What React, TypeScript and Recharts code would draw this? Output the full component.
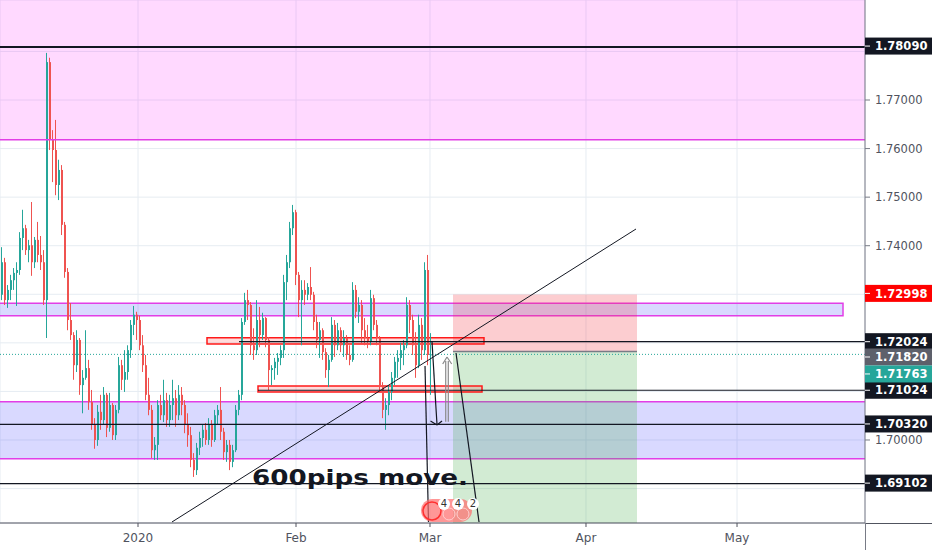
import React from 'react';
import {
  ComposedChart,
  Bar,
  XAxis,
  YAxis,
  CartesianGrid,
  ReferenceArea,
  ReferenceLine,
  ReferenceDot,
} from 'recharts';

type Candle = [number, number, number, number]; // open, high, low, close

const decCandles: Candle[] = [
  [1.7299, 1.7397, 1.7288, 1.7366],
  [1.7366, 1.7375, 1.7278, 1.7288],
  [1.7288, 1.7319, 1.7272, 1.7309],
  [1.7309, 1.734, 1.7288, 1.7329],
  [1.7329, 1.7354, 1.7309, 1.7344],
  [1.7344, 1.7366, 1.7276, 1.735],
  [1.735, 1.7428, 1.734, 1.7416],
  [1.7416, 1.7474, 1.7391, 1.7436],
  [1.7436, 1.7443, 1.7381, 1.7391],
  [1.7391, 1.7412, 1.7366, 1.7401],
  [1.7401, 1.749, 1.7338, 1.7366],
  [1.7366, 1.7418, 1.7354, 1.7412],
  [1.7412, 1.7449, 1.7366, 1.7381],
  [1.7381, 1.742, 1.735, 1.7366],
  [1.7366, 1.7391, 1.7278, 1.7288],
  [1.7288, 1.7797, 1.721, 1.7778],
  [1.7778, 1.7787, 1.7597, 1.7618],
  [1.7618, 1.7638, 1.7531, 1.7597],
  [1.7597, 1.7659, 1.7504, 1.7525],
  [1.7525, 1.7577, 1.7494, 1.7556],
  [1.7556, 1.7566, 1.7422, 1.7443],
  [1.7443, 1.7449, 1.7334, 1.7346],
  [1.7346, 1.7354, 1.7226, 1.7247],
  [1.7247, 1.7282, 1.7206, 1.7216],
  [1.7216, 1.7222, 1.7124, 1.7154],
  [1.7154, 1.7226, 1.714, 1.7206],
  [1.7206, 1.721, 1.7093, 1.7113],
  [1.7113, 1.7144, 1.7055, 1.7128],
  [1.7128, 1.7226, 1.7124, 1.7148],
  [1.7148, 1.7165, 1.7062, 1.7078],
  [1.7078, 1.7103, 1.7021, 1.7031],
  [1.7031, 1.7045, 1.6982, 1.7],
  [1.7, 1.7072, 1.6988, 1.7058],
  [1.7058, 1.7093, 1.7021, 1.7041],
  [1.7041, 1.7109, 1.7031, 1.7093],
  [1.7093, 1.7097, 1.7006, 1.7025],
  [1.7025, 1.7097, 1.7017, 1.7072],
  [1.7072, 1.7076, 1.7, 1.701],
  [1.701, 1.7072, 1.7, 1.7062],
  [1.7062, 1.7171, 1.7055, 1.7154],
  [1.7154, 1.7165, 1.7103, 1.7124],
  [1.7124, 1.7185, 1.7099, 1.714],
  [1.714, 1.7195, 1.7124, 1.7185],
  [1.7185, 1.7247, 1.7169, 1.7237],
  [1.7237, 1.7276, 1.7216, 1.7258],
  [1.7258, 1.7264, 1.7206, 1.7247],
];

const janCandles: Candle[] = [
  [1.7247, 1.7256, 1.7185, 1.7195],
  [1.7195, 1.7216, 1.714, 1.7154],
  [1.7154, 1.7175, 1.7082, 1.7093],
  [1.7093, 1.7128, 1.7051, 1.7062],
  [1.7062, 1.7072, 1.6963, 1.6979],
  [1.6979, 1.7006, 1.6959, 1.699],
  [1.699, 1.7082, 1.6959, 1.7072],
  [1.7072, 1.7093, 1.7041, 1.7051],
  [1.7051, 1.7124, 1.7037, 1.7082],
  [1.7082, 1.7097, 1.7027, 1.7041],
  [1.7041, 1.7093, 1.7027, 1.7072],
  [1.7072, 1.7124, 1.7041, 1.7086],
  [1.7086, 1.7103, 1.7027, 1.7051],
  [1.7051, 1.7113, 1.7041, 1.7093],
  [1.7093, 1.7109, 1.7051, 1.7072],
  [1.7072, 1.7082, 1.7014, 1.7031],
  [1.7031, 1.7055, 1.6986, 1.701],
  [1.701, 1.7027, 1.6944, 1.6959],
  [1.6959, 1.6973, 1.6924, 1.6938],
  [1.6938, 1.6994, 1.6928, 1.6984],
  [1.6984, 1.7017, 1.6969, 1.7004],
  [1.7004, 1.7031, 1.6986, 1.7021],
  [1.7021, 1.7035, 1.699, 1.7],
  [1.7, 1.7045, 1.699, 1.7031],
  [1.7031, 1.7041, 1.6986, 1.7],
  [1.7, 1.7062, 1.6996, 1.7051],
  [1.7051, 1.7072, 1.7031, 1.7062],
  [1.7062, 1.7109, 1.7, 1.7017],
  [1.7017, 1.7025, 1.6959, 1.6975],
  [1.6975, 1.7, 1.6955, 1.699],
  [1.699, 1.7, 1.6938, 1.6955],
  [1.6955, 1.699, 1.6944, 1.6979],
  [1.6979, 1.7072, 1.6975, 1.7062],
  [1.7062, 1.7103, 1.7051, 1.7093],
  [1.7093, 1.7251, 1.7082, 1.7243],
  [1.7243, 1.7303, 1.7237, 1.7288],
  [1.7288, 1.7309, 1.7247, 1.7278],
  [1.7278, 1.7284, 1.7175, 1.7195],
  [1.7195, 1.723, 1.7165, 1.7185],
  [1.7185, 1.7288, 1.7175, 1.7247],
  [1.7247, 1.7274, 1.7191, 1.7216],
  [1.7216, 1.7262, 1.7206, 1.7251],
  [1.7251, 1.7253, 1.7191, 1.7206],
  [1.7206, 1.7212, 1.7103, 1.7144],
  [1.7144, 1.7154, 1.7113, 1.7148],
  [1.7148, 1.7169, 1.7124, 1.7161],
  [1.7161, 1.7179, 1.7134, 1.7169],
  [1.7169, 1.7195, 1.7154, 1.7185],
  [1.7185, 1.734, 1.7169, 1.7325],
  [1.7325, 1.7381, 1.7288, 1.7366],
  [1.7366, 1.7449, 1.7354, 1.7436],
  [1.7436, 1.7484, 1.7422, 1.7469],
  [1.7469, 1.7474, 1.7319, 1.734],
];

const febCandles: Candle[] = [
  [1.734, 1.7346, 1.7253, 1.7288],
  [1.7288, 1.7329, 1.7195, 1.7309],
  [1.7309, 1.7329, 1.7278, 1.7299],
  [1.7299, 1.7323, 1.7288, 1.7315],
  [1.7315, 1.7356, 1.7288, 1.7299],
  [1.7299, 1.7305, 1.7226, 1.7243],
  [1.7243, 1.7258, 1.7189, 1.7206],
  [1.7206, 1.7243, 1.7169, 1.7226],
  [1.7226, 1.723, 1.7165, 1.7181],
  [1.7181, 1.7189, 1.7128, 1.7144],
  [1.7144, 1.7175, 1.7109, 1.7165],
  [1.7165, 1.7253, 1.7161, 1.7237],
  [1.7237, 1.7247, 1.7171, 1.7195],
  [1.7195, 1.7241, 1.7185, 1.7226],
  [1.7226, 1.7232, 1.7181, 1.7195],
  [1.7195, 1.7226, 1.7171, 1.721],
  [1.721, 1.7216, 1.7165, 1.7175],
  [1.7175, 1.7195, 1.7154, 1.7165],
  [1.7165, 1.7325, 1.7161, 1.7309],
  [1.7309, 1.7319, 1.7251, 1.7264],
  [1.7264, 1.7294, 1.7241, 1.7278],
  [1.7278, 1.7288, 1.72, 1.7226],
  [1.7226, 1.7251, 1.7195, 1.721],
  [1.721, 1.7237, 1.7189, 1.7202],
  [1.7202, 1.7309, 1.7195, 1.7292],
  [1.7292, 1.7299, 1.7226, 1.7237],
  [1.7237, 1.7247, 1.7195, 1.721],
  [1.721, 1.7214, 1.7099, 1.7113],
  [1.7113, 1.7119, 1.7045, 1.7062],
  [1.7062, 1.7086, 1.7021, 1.7072],
  [1.7072, 1.7113, 1.7051, 1.7099],
  [1.7099, 1.714, 1.7082, 1.7128],
  [1.7128, 1.7171, 1.7113, 1.7161],
  [1.7161, 1.7185, 1.7128, 1.7169],
  [1.7169, 1.72, 1.7144, 1.7185],
  [1.7185, 1.7206, 1.7154, 1.7195],
  [1.7195, 1.7294, 1.7189, 1.7278],
  [1.7278, 1.7288, 1.722, 1.7247],
  [1.7247, 1.7258, 1.7175, 1.7195],
  [1.7195, 1.7222, 1.7128, 1.7154],
  [1.7154, 1.7258, 1.7148, 1.7237],
  [1.7237, 1.7251, 1.7165, 1.7185],
  [1.7185, 1.7366, 1.7175, 1.735],
  [1.735, 1.7381, 1.7154, 1.7175],
];

const marCandles: Candle[] = [[1.7175, 1.722, 1.7093, 1.71763]];

const candleData = [...decCandles, ...janCandles, ...febCandles, ...marCandles].map((c, i) => ({
  i,
  o: c[0],
  h: c[1],
  l: c[2],
  c: c[3],
}));

const monthTickIndex = [45.5, 98.17, 142.83, 194.83, 245.17];
const monthTickLabels = ['2020', 'Feb', 'Mar', 'Apr', 'May'];
const priceTicks = [1.69, 1.7, 1.71, 1.72, 1.73, 1.74, 1.75, 1.76, 1.77, 1.78];
const priceTickLabels = ['', '1.70000', '', '', '', '1.74000', '1.75000', '1.76000', '1.77000', ''];

const badgeValues = [1.7809, 1.72998, 1.72024, 1.71024, 1.7182, 1.71763, 1.7032, 1.69102];
const badgeTexts = ['1.78090', '1.72998', '1.72024', '1.71024', '1.71820', '1.71763', '1.70320', '1.69102'];

const X_DOMAIN: [number, number] = [-0.5, 287.83];
const Y_DOMAIN: [number, number] = [1.68291, 1.79059];

const TEAL = '#26a69a';
const RED = '#ef5350';
const MAGENTA = '#e23ee6';
const INK = '#131722';
const GREY = '#787b86';
const FONT = '"DejaVu Sans", sans-serif';

const badgeColors = [INK, '#ff0000', INK, INK, '#5d606b', TEAL, INK, INK];
const badgeShift = [-1, -1, 0, 0, 5.4, 19.6, -0.5, -0.5];

// drawings: [x1, y1, x2, y2] in (bar index, price)
const trendLine = [56.83, 1.68312, 211.5, 1.74344];
const dropLine = [141.17, 1.71524, 142.33, 1.68312];
const targetLine = [151.5, 1.71791, 159.17, 1.68312];
const downArrow = [143.5, 1.72024, 145.17, 1.70309];
const downArrowWings = [
  [143.0, 1.70391, 145.17, 1.70309],
  [146.83, 1.70391, 145.17, 1.70309],
];
const upArrowShafts = [
  [148.07, 1.70376, 148.07, 1.71627],
  [148.93, 1.70376, 148.93, 1.71627],
];
const upArrowHead = [
  [147.07, 1.71565, 148.5, 1.71709],
  [150.07, 1.71565, 148.5, 1.71709],
];

const renderCandle = (props: any) => {
  const { x, y, width, height, payload } = props;
  if (!payload || x == null || y == null) return <g />;
  const top = Math.min(y, y + height);
  const span = Math.abs(height);
  const range = payload.h - payload.l;
  const k = range > 0 ? span / range : 0;
  const yOpen = top + (payload.h - payload.o) * k;
  const yClose = top + (payload.h - payload.c) * k;
  const color = payload.c >= payload.o ? TEAL : RED;
  const cx = Math.round(x + width / 2);
  const bodyTop = Math.min(yOpen, yClose);
  const bodyH = Math.max(1, Math.abs(yClose - yOpen));
  return (
    <g>
      <rect x={cx - 1} y={top} width={1} height={Math.max(span, 1)} fill={color} />
      <rect x={cx - 1} y={bodyTop} width={2} height={bodyH} fill={color} />
    </g>
  );
};

const MonthTick = (p: any) => {
  const idx = monthTickIndex.findIndex((v) => Math.abs(v - p.payload.value) < 1e-6);
  return (
    <text x={p.x} y={p.y + 13} textAnchor="middle" fill="#50535e" fontSize={12} fontFamily={FONT}>
      {monthTickLabels[idx] ?? ''}
    </text>
  );
};

const PriceTick = (p: any) => {
  const idx = priceTicks.findIndex((v) => Math.abs(v - p.payload.value) < 1e-6);
  const label = priceTickLabels[idx];
  if (!label) return <g />;
  return (
    <text x={p.x} y={p.y + 4} fill="#50535e" fontSize={11.5} fontFamily={FONT} textAnchor="start">
      {label}
    </text>
  );
};

const makeBadge = (text: string, bg: string, shift: number) => (p: any) => {
  const x = p.cx;
  const y = p.cy + shift;
  return (
    <g>
      <rect x={x} y={y - 8.5} width={67} height={17} fill={bg} />
      <line x1={x} x2={x + 5} y1={y} y2={y} stroke="#ffffff" strokeWidth={1} />
      <text x={x + 10} y={y + 4.2} fill="#ffffff" fontSize={11.5} fontWeight="bold" fontFamily={FONT}>
        {text}
      </text>
    </g>
  );
};

const seg = (s: number[]) => [
  { x: s[0], y: s[1] },
  { x: s[2], y: s[3] },
];

const headline = (p: any) => (
  <text
    x={p.cx}
    y={p.cy}
    fill={INK}
    fontSize={22}
    fontWeight="bold"
    fontFamily={FONT}
    textLength={216}
    lengthAdjust="spacingAndGlyphs"
  >
    600pips move.
  </text>
);

const eventBadges = (p: any) => {
  const x = p.cx;
  const y = p.cy;
  return (
    <g>
      <rect x={x} y={y + 1} width={51} height={23} rx={11.5} fill="#ff6b6b" fillOpacity={0.7} />
      <circle cx={x + 11} cy={y + 13} r={9} fill="none" stroke="#ff3030" strokeWidth={1.5} />
      <circle cx={x + 28} cy={y + 16} r={6} fill="none" stroke="#ffd0d0" strokeWidth={1} />
      <circle cx={x + 42} cy={y + 16} r={6} fill="none" stroke="#ffd0d0" strokeWidth={1} />
      {[23, 37, 52].map((dx, k) => (
        <g key={k}>
          <circle cx={x + dx} cy={y + 6} r={6} fill="#ffffff" />
          <text x={x + dx} y={y + 9.5} textAnchor="middle" fontSize={10} fontFamily={FONT} fill="#333">
            {k === 2 ? '2' : '4'}
          </text>
        </g>
      ))}
    </g>
  );
};

export default function App() {
  return (
    <div style={{ position: 'fixed', left: 0, top: 0, width: 932, height: 550, background: '#ffffff' }}>
      <ComposedChart
        width={932}
        height={550}
        data={candleData}
        margin={{ top: 0, right: 0, bottom: 0, left: 0 }}
      >
        <CartesianGrid stroke="#e6ecf2" />
        <XAxis
          dataKey="i"
          type="number"
          domain={X_DOMAIN}
          ticks={monthTickIndex}
          interval={0}
          allowDataOverflow
          height={27}
          tick={MonthTick}
          tickSize={4}
          stroke="#50535e"
        />
        <YAxis
          orientation="right"
          type="number"
          domain={Y_DOMAIN}
          ticks={priceTicks}
          interval={0}
          allowDataOverflow
          width={67}
          tick={PriceTick}
          tickSize={5}
          tickMargin={5}
          stroke={GREY}
        />

        {/* zones */}
        <ReferenceArea y1={1.7618} y2={Y_DOMAIN[1]} fill="#ff00ff" fillOpacity={0.15} stroke="none" ifOverflow="hidden" />
        <ReferenceArea x1={-3} x2={280.5} y1={1.72559} y2={1.72814} fill="#3333ff" fillOpacity={0.19} stroke={MAGENTA} strokeWidth={1.5} ifOverflow="hidden" />
        <ReferenceArea x1={-3} x2={300} y1={1.69615} y2={1.70788} fill="#3333ff" fillOpacity={0.19} stroke={MAGENTA} strokeWidth={1.5} ifOverflow="hidden" />
        <ReferenceArea x1={150.5} x2={211.83} y1={1.7182} y2={1.72998} fill="#f23645" fillOpacity={0.25} stroke="none" ifOverflow="hidden" />
        <ReferenceArea x1={150.5} x2={211.83} y1={1.67} y2={1.7182} fill="#4caf50" fillOpacity={0.25} stroke="none" ifOverflow="hidden" />

        <Bar dataKey={(d: any) => [d.l, d.h]} barSize={2} shape={renderCandle} isAnimationActive={false} />

        {/* levels */}
        <ReferenceLine y={1.7618} stroke={MAGENTA} strokeWidth={1.5} />
        <ReferenceLine y={1.7809} stroke={INK} strokeWidth={2} />
        <ReferenceLine segment={seg([79.17, 1.72024, X_DOMAIN[1], 1.72024])} stroke={INK} strokeWidth={1.2} ifOverflow="visible" />
        <ReferenceLine segment={seg([85.5, 1.71024, X_DOMAIN[1], 1.71024])} stroke={INK} strokeWidth={1.2} ifOverflow="visible" />
        <ReferenceLine y={1.7032} stroke={INK} strokeWidth={1.2} />
        <ReferenceLine y={1.69102} stroke={INK} strokeWidth={1.2} />
        <ReferenceLine y={1.71763} stroke={TEAL} strokeDasharray="1 2" strokeWidth={1} />
        <ReferenceLine segment={seg([150.5, 1.7182, 211.83, 1.7182])} stroke={GREY} strokeWidth={1.5} ifOverflow="visible" />

        {/* red zones */}
        <ReferenceArea x1={68.5} x2={160.83} y1={1.71976} y2={1.72106} fill="#ff0000" fillOpacity={0.14} stroke="#ff1a1a" strokeWidth={1.5} ifOverflow="visible" />
        <ReferenceArea x1={85.5} x2={160.17} y1={1.70988} y2={1.71112} fill="#ff0000" fillOpacity={0.14} stroke="#ff1a1a" strokeWidth={1.5} ifOverflow="visible" />

        {/* drawn lines */}
        <ReferenceLine segment={seg(trendLine)} stroke={INK} strokeWidth={1} ifOverflow="hidden" />
        <ReferenceLine segment={seg(dropLine)} stroke={INK} strokeWidth={1.2} ifOverflow="hidden" />
        <ReferenceLine segment={seg(targetLine)} stroke={INK} strokeWidth={1.2} ifOverflow="hidden" />
        <ReferenceLine segment={seg(downArrow)} stroke={INK} strokeWidth={1.2} ifOverflow="visible" />
        {downArrowWings.map((s, k) => (
          <ReferenceLine key={`dw${k}`} segment={seg(s)} stroke={INK} strokeWidth={1.2} ifOverflow="visible" />
        ))}
        {upArrowShafts.map((s, k) => (
          <ReferenceLine key={`us${k}`} segment={seg(s)} stroke="#8a8a8a" strokeWidth={1.2} ifOverflow="visible" />
        ))}
        {upArrowHead.map((s, k) => (
          <ReferenceLine key={`uh${k}`} segment={seg(s)} stroke="#8a8a8a" strokeWidth={1.2} ifOverflow="visible" />
        ))}

        <ReferenceDot x={83.5} y={1.69073} r={0} ifOverflow="visible" shape={headline} />
        <ReferenceDot x={139.83} y={1.68806} r={0} ifOverflow="visible" shape={eventBadges} />

        {/* price scale badges */}
        {badgeValues.map((v, k) => (
          <ReferenceDot
            key={`b${k}`}
            x={X_DOMAIN[1]}
            y={v}
            r={0}
            ifOverflow="visible"
            shape={makeBadge(badgeTexts[k], badgeColors[k], badgeShift[k])}
          />
        ))}
      </ComposedChart>
      <div style={{ position: 'absolute', left: 865, top: 523, width: 67, height: 1, background: '#50535e' }} />
      <div style={{ position: 'absolute', left: 865, top: 523, width: 1, height: 27, background: GREY }} />
    </div>
  );
}
